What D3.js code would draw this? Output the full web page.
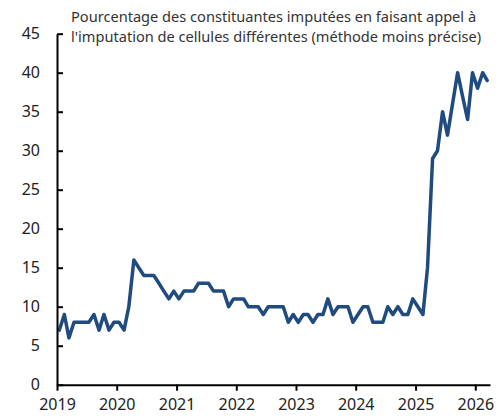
<!DOCTYPE html>
<html>
<head>
<meta charset="utf-8">
<script src="https://d3js.org/d3.v7.min.js"></script>
<style>
body {
  margin: 0;
  background: white;
  font-family: "Noto Sans", "Open Sans", sans-serif;
}
</style>
</head>
<body>
<div id="chart"></div>

<script>
// Monthly values, Jan 2019 to Mar 2026
const startYear = 2019;
const values = [
  7, 9, 6, 8, 8, 8, 8, 9, 7, 9, 7, 8,          // 2019
  8, 7, 10, 16, 15, 14, 14, 14, 13, 12, 11, 12, // 2020
  11, 12, 12, 12, 13, 13, 13, 12, 12, 12, 10, 11, // 2021
  11, 11, 10, 10, 10, 9, 10, 10, 10, 10, 8, 9,  // 2022
  8, 9, 9, 8, 9, 9, 11, 9, 10, 10, 10, 8,       // 2023
  9, 10, 10, 8, 8, 8, 10, 9, 10, 9, 9, 11,      // 2024
  10, 9, 15, 29, 30, 35, 32, 36, 40, 37, 34, 40, // 2025
  38, 40, 39                                    // 2026
];
const yTicks = [0, 5, 10, 15, 20, 25, 30, 35, 40, 45];
const xTicks = [2019, 2020, 2021, 2022, 2023, 2024, 2025, 2026];
const titleLines = [
  "Pourcentage des constituantes imputées en faisant appel à",
  "l'imputation de cellules différentes (méthode moins précise)"
];

const data = values.map((v, i) => ({ date: new Date(startYear, i, 15), value: v }));

const svg = d3.select("#chart")
  .append("svg")
  .attr("width", 500)
  .attr("height", 417);

const margin = { top: 33.7, bottom: 384.7, left: 57, right: 490 };

// Scales
const xScale = d3.scaleTime()
  .domain([new Date(2019, 0, 1), new Date(2026, 3, 1)])
  .range([margin.left, margin.right]);
const yScale = d3.scaleLinear()
  .domain([0, 45])
  .range([margin.bottom, margin.top]);

// Title
svg.append("g")
  .selectAll("text")
  .data(titleLines)
  .enter().append("text")
  .attr("x", 71)
  .attr("y", (d, i) => 21.5 + i * 20.5)
  .style("font-size", "14.6px")
  .style("fill", "#333")
  .text(d => d);

// Line
const line = d3.line()
  .x(d => xScale(d.date))
  .y(d => yScale(d.value));

svg.append("path")
  .datum(data)
  .attr("fill", "none")
  .attr("stroke", "#1f4b7f")
  .attr("stroke-width", 3.5)
  .attr("stroke-linejoin", "round")
  .attr("stroke-linecap", "round")
  .attr("d", line);

// Y axis (ticks point inward)
const yAxis = svg.append("g")
  .attr("transform", `translate(${margin.left},0)`)
  .call(d3.axisLeft(yScale)
    .tickValues(yTicks)
    .tickSize(-6)
    .tickSizeOuter(0)
    .tickPadding(17));

// X axis
const xAxis = svg.append("g")
  .attr("transform", `translate(0,${margin.bottom})`)
  .call(d3.axisBottom(xScale)
    .tickValues(xTicks.map(y => new Date(y, 0, 1)))
    .tickFormat(d3.timeFormat("%Y"))
    .tickSize(6)
    .tickSizeOuter(0)
    .tickPadding(8));

[yAxis, xAxis].forEach(ax => {
  ax.select(".domain").attr("stroke", "#000").attr("stroke-width", 2);
  ax.selectAll(".tick line").attr("stroke", "#000").attr("stroke-width", 2);
  ax.selectAll(".tick text")
    .style("font-family", "'Noto Sans', sans-serif")
    .style("font-size", "16px")
    .style("fill", "#222");
});
</script>
</body>
</html>
